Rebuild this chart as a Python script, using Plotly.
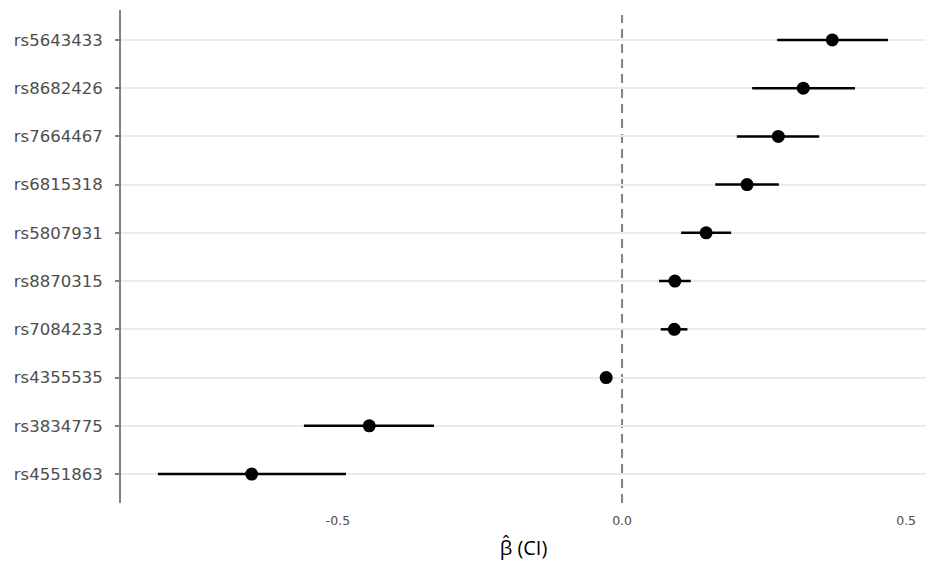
import plotly.graph_objects as go

# SNP effect estimates with confidence intervals (top to bottom in the picture)
snps = ["rs5643433", "rs8682426", "rs7664467", "rs6815318", "rs5807931",
        "rs8870315", "rs7084233", "rs4355535", "rs3834775", "rs4551863"]
beta = [0.370, 0.319, 0.275, 0.220, 0.148, 0.093, 0.092, -0.028, -0.445, -0.652]
ci_low = [0.273, 0.229, 0.202, 0.164, 0.104, 0.065, 0.068, -0.034, -0.560, -0.817]
ci_high = [0.468, 0.410, 0.347, 0.276, 0.192, 0.121, 0.115, -0.022, -0.331, -0.486]

x_ticks = [-0.5, 0.0, 0.5]
x_ticklabels = ["-0.5", "0.0", "0.5"]

# plot bottom-up so the first snp ends at the top
order = list(reversed(range(len(snps))))
ys = [snps[i] for i in order]
xs = [beta[i] for i in order]
err_plus = [ci_high[i] - beta[i] for i in order]
err_minus = [beta[i] - ci_low[i] for i in order]

fig = go.Figure()

fig.add_trace(
    go.Scatter(
        x=xs,
        y=ys,
        mode="markers",
        marker=dict(color="black", size=13),
        error_x=dict(
            type="data",
            symmetric=False,
            array=err_plus,
            arrayminus=err_minus,
            color="black",
            thickness=2.5,
            width=0,
        ),
        showlegend=False,
    )
)

# reference line at zero
fig.add_shape(
    type="line",
    x0=0, x1=0, xref="x",
    y0=0, y1=0.99, yref="paper",
    line=dict(color="#7f7f7f", width=2, dash="9px,6px"),
    layer="below",
)

fig.update_layout(
    width=928,
    height=568,
    margin=dict(l=113, r=10, t=2, b=73),
    plot_bgcolor="white",
    paper_bgcolor="white",
    font=dict(family="DejaVu Sans", color="#4d4d4d"),
    xaxis=dict(
        range=[-0.882, 0.535],
        tickvals=x_ticks,
        ticktext=x_ticklabels,
        tickfont=dict(size=12.5, color="#4d4d4d"),
        ticks="outside",
        ticklen=6,
        tickcolor="rgba(0,0,0,0)",
        showgrid=False,
        zeroline=False,
        showline=False,
        title=dict(text="β̂ (CI)", font=dict(family="Open Sans", size=20, color="black"), standoff=13),
    ),
    yaxis=dict(
        categoryorder="array",
        categoryarray=ys,
        range=[-0.6, 9.62],
        tickfont=dict(size=16.5, color="#4d4d4d"),
        ticks="outside",
        ticklen=4,
        tickwidth=1.5,
        tickcolor="#808080",
        ticklabelstandoff=9,
        showgrid=True,
        gridcolor="#ebebeb",
        gridwidth=1.5,
        zeroline=False,
        showline=True,
        linecolor="#808080",
        linewidth=2,
    ),
)

fig.write_html("out.html")
